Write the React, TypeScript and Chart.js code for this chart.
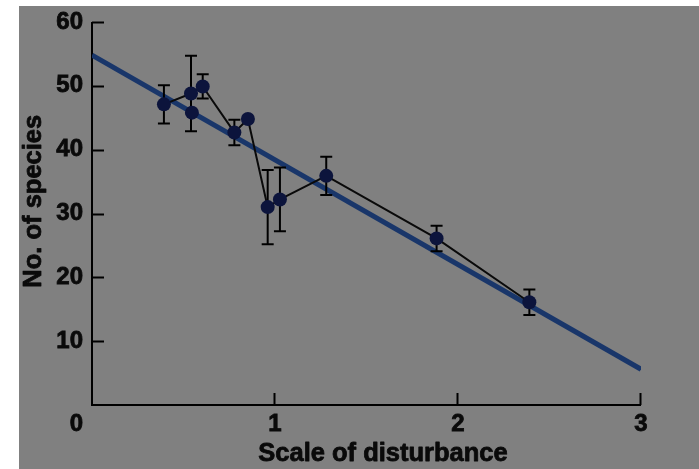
import React, { useEffect, useRef } from "react";
import { Chart, registerables } from "chart.js";

Chart.register(...registerables);

// ---- data ----
const disturbance = [0.393, 0.541, 0.605, 0.778, 0.852, 0.96, 1.027, 1.28, 1.883, 2.39];
const species = [47.1, 48.8, 49.9, 42.7, 44.8, 31.0, 32.2, 35.9, 26.1, 16.1];
const speciesErr = [3.0, 5.9, 1.9, 2.0, 0, 5.8, 5.0, 3.0, 2.0, 2.0];
const extraDisturbance = [0.546];
const extraSpecies = [45.8];
const fitX = [0, 3];
const fitY = [54.8, 5.6];
const xTickValues = [0, 1, 2, 3];
const yTickValues = [10, 20, 30, 40, 50, 60];
const xTitle = "Scale of disturbance";
const yTitle = "No. of species";
const originLabel = "0";

const FONT = "'Liberation Sans', Arial, sans-serif";
const TEXT = "#0a0a0a";

const decorPlugin = {
  id: "decor",
  beforeDatasetsDraw(chart: any) {
    const { ctx, chartArea, scales } = chart;
    const xs = scales.x;
    const ys = scales.y;
    ctx.save();
    ctx.strokeStyle = "#000";
    ctx.lineWidth = 2;
    ctx.lineCap = "butt";
    ctx.beginPath();
    ctx.moveTo(chartArea.left, ys.getPixelForValue(60));
    ctx.lineTo(chartArea.left, ys.getPixelForValue(0));
    ctx.lineTo(xs.getPixelForValue(3), ys.getPixelForValue(0));
    ctx.stroke();
    ctx.beginPath();
    yTickValues.forEach((v) => {
      const py = Math.round(ys.getPixelForValue(v)) + 0.5;
      ctx.moveTo(chartArea.left, py);
      ctx.lineTo(chartArea.left + 12, py);
    });
    xTickValues.slice(1).forEach((v) => {
      const px = Math.round(xs.getPixelForValue(v)) - 0.5;
      ctx.moveTo(px, ys.getPixelForValue(0));
      ctx.lineTo(px, ys.getPixelForValue(0) - 12);
    });
    ctx.stroke();
    ctx.restore();
  },
  beforeDatasetDraw(chart: any, args: any) {
    if (args.index !== 0) return;
    const { ctx, scales } = chart;
    const xs = scales.x;
    const ys = scales.y;
    ctx.save();
    ctx.strokeStyle = "#000";
    ctx.lineWidth = 2;
    ctx.beginPath();
    disturbance.forEach((x, i) => {
      const e = speciesErr[i];
      if (!e) return;
      const px = xs.getPixelForValue(x);
      const top = ys.getPixelForValue(species[i] + e);
      const bot = ys.getPixelForValue(species[i] - e);
      ctx.moveTo(px, top);
      ctx.lineTo(px, bot);
      ctx.moveTo(px - 6, top);
      ctx.lineTo(px + 6, top);
      ctx.moveTo(px - 6, bot);
      ctx.lineTo(px + 6, bot);
    });
    ctx.stroke();
    ctx.restore();
  },
  afterDraw(chart: any) {
    const { ctx, chartArea } = chart;
    ctx.save();
    ctx.fillStyle = TEXT;
    ctx.strokeStyle = TEXT;
    ctx.lineWidth = 0.8;
    ctx.lineJoin = "round";
    ctx.textAlign = "center";
    ctx.textBaseline = "middle";
    ctx.font = `bold 25.5px ${FONT}`;
    const tx = chartArea.left + (chartArea.right - chartArea.left) * 0.53;
    const ty = chartArea.bottom + 49;
    ctx.fillText(xTitle, tx, ty);
    ctx.strokeText(xTitle, tx, ty);
    ctx.save();
    ctx.translate(15, chartArea.top + (chartArea.bottom - chartArea.top) * 0.468);
    ctx.rotate(-Math.PI / 2);
    ctx.fillText(yTitle, 0, 0);
    ctx.strokeText(yTitle, 0, 0);
    ctx.restore();
    ctx.font = `bold 24px ${FONT}`;
    ctx.fillText(originLabel, chartArea.left - 15.5, chartArea.bottom + 19);
    ctx.strokeText(originLabel, chartArea.left - 15.5, chartArea.bottom + 19);
    ctx.restore();
  },
};

export default function App() {
  const ref = useRef<HTMLCanvasElement | null>(null);
  useEffect(() => {
    if (!ref.current) return;
    const chart = new Chart(ref.current, {
      type: "scatter",
      data: {
        datasets: [
          {
            label: "species",
            data: disturbance.map((x, i) => ({ x, y: species[i] })),
            showLine: true,
            borderColor: "#0a0a0a",
            borderWidth: 2,
            pointRadius: 7,
            pointBackgroundColor: "#0c143c",
            pointBorderWidth: 0,
            order: 1,
          },
          {
            label: "extra",
            data: extraDisturbance.map((x, i) => ({ x, y: extraSpecies[i] })),
            showLine: false,
            pointRadius: 7,
            pointBackgroundColor: "#0c143c",
            pointBorderWidth: 0,
            order: 0,
          },
          {
            label: "fit",
            data: fitX.map((x, i) => ({ x, y: fitY[i] })),
            showLine: true,
            borderColor: "#19366a",
            borderWidth: 5,
            pointRadius: 0,
            order: 2,
          },
        ],
      },
      options: {
        animation: false,
        responsive: false,
        layout: { padding: { left: 0, top: 16, right: 58, bottom: 0 } },
        plugins: { legend: { display: false }, tooltip: { enabled: false } },
        scales: {
          x: {
            type: "linear",
            min: 0,
            max: 3,
            grid: { display: false, drawTicks: false },
            border: { display: false },
            afterBuildTicks: (s: any) => {
              s.ticks = xTickValues.map((v) => ({ value: v }));
            },
            afterFit: (s: any) => {
              s.height = 64;
              s.paddingLeft = 0;
              s.paddingRight = 0;
            },
            ticks: {
              padding: 5,
              color: TEXT,
              textStrokeColor: TEXT,
              textStrokeWidth: 0.8,
              font: { family: FONT, size: 24, weight: "bold" },
              callback: (v: any) => (v === 0 ? "" : String(v)),
            },
          },
          y: {
            type: "linear",
            min: 0,
            max: 60,
            grid: { display: false, drawTicks: false },
            border: { display: false },
            afterBuildTicks: (s: any) => {
              s.ticks = yTickValues.map((v) => ({ value: v }));
            },
            afterFit: (s: any) => {
              s.width = 73;
              s.paddingTop = 0;
              s.paddingBottom = 0;
            },
            ticks: {
              padding: 9,
              color: TEXT,
              textStrokeColor: TEXT,
              textStrokeWidth: 0.8,
              font: { family: FONT, size: 24, weight: "bold" },
            },
          },
        },
      },
      plugins: [decorPlugin],
    });
    return () => chart.destroy();
  }, []);

  return (
    <div style={{ position: "fixed", left: 0, top: 0, width: 699, height: 469, background: "#ffffff", overflow: "hidden" }}>
      <canvas
        ref={ref}
        width={680}
        height={463}
        style={{ position: "absolute", left: 19, top: 6, width: 680, height: 463, background: "#808080" }}
      />
    </div>
  );
}
